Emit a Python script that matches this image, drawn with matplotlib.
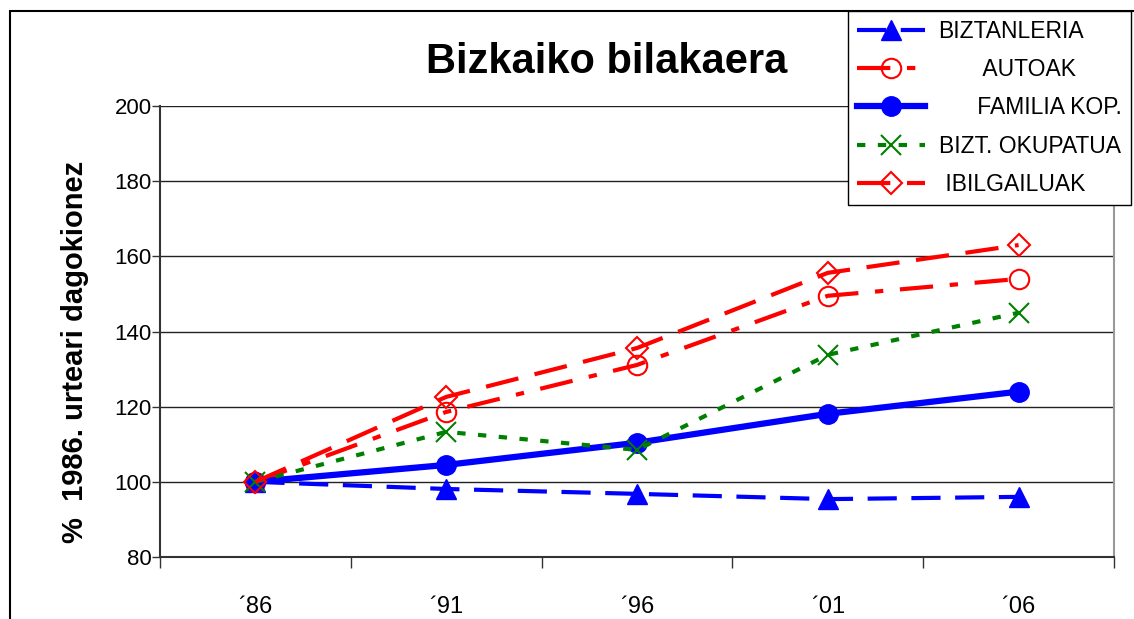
import matplotlib.pyplot as plt
from matplotlib.patches import Rectangle
import numpy as np

# -----------------------------
# Data (index, 1986 = 100)
# -----------------------------
years = ["\u00b486", "\u00b491", "\u00b496", "\u00b401", "\u00b406"]
biztanleria = [100, 98.1, 96.8, 95.4, 96.0]
autoak = [100, 118.6, 131.1, 149.5, 154.0]
familia_kop = [100, 104.5, 110.4, 118.1, 124.0]
bizt_okupatua = [100, 113.3, 108.5, 133.8, 145.0]
ibilgailuak = [100, 122.6, 135.6, 155.6, 163.0]

plt.rcParams['font.family'] = ['Liberation Sans', 'DejaVu Sans']

fig = plt.figure(figsize=(11.34, 6.19), dpi=100)
W, H = 1134, 619
ax = fig.add_axes([160 / W, 1 - 557 / H, (1114 - 160) / W, (557 - 106) / H])

x = np.arange(len(years)) + 0.5

ax.plot(x, biztanleria, color='blue', lw=3, dashes=(7, 3.5), marker='^',
        ms=14, label='BIZTANLERIA')
ax.plot(x, autoak, color='red', lw=3, dashes=(8, 4, 2, 4), marker='o',
        ms=14, mfc='none', mew=1.5, label='       AUTOAK')
ax.plot(x, familia_kop, color='blue', lw=4.5, marker='o', ms=14,
        label='      FAMILIA KOP.')
ax.plot(x, bizt_okupatua, color='green', lw=3, dashes=(2, 3), marker='x',
        ms=14, mew=1.5, label='BIZT. OKUPATUA')
ax.plot(x, ibilgailuak, color='red', lw=3, dashes=(8, 4), marker='D',
        ms=11, mfc='none', mew=1.5, label=' IBILGAILUAK')

ax.set_xlim(0, 5)
ax.set_ylim(80, 200)
ax.set_yticks(range(80, 201, 20))
ax.set_xticks(x)
ax.set_xticklabels(years, fontsize=17)
ax.set_xticks(np.arange(0, 6), minor=True)
ax.tick_params(axis='x', which='major', length=0, pad=28)
ax.tick_params(axis='x', which='minor', length=8, width=1, color='#333333')
ax.tick_params(axis='y', labelsize=16, length=6, width=1, color='#333333', pad=0)
ax.yaxis.grid(True, color='#222222', lw=1)
ax.set_axisbelow(True)

for side in ['left', 'bottom']:
    ax.spines[side].set_color('#333333')
    ax.spines[side].set_linewidth(1.5)
ax.spines['top'].set_visible(False)
ax.spines['right'].set_color('#999999')
ax.spines['right'].set_linewidth(1.5)

ax.set_ylabel('%  1986. urteari dagokionez', fontsize=21, fontweight='bold')
ax.yaxis.set_label_coords(-0.074, 0.455)

fig.text(607 / W, 1 - 62 / H, 'Bizkaiko bilakaera', fontsize=30,
         fontweight='bold', ha='center', va='center')

# outer chart border
fig.patches.append(Rectangle((10 / W, -0.1), 1.2, 1 - 11 / H + 0.1,
                             transform=fig.transFigure, fill=False,
                             edgecolor='black', lw=1.5))

leg = fig.legend(loc='upper left', bbox_to_anchor=(848 / W, 1 - 11 / H),
                 fontsize=16.5, frameon=True, fancybox=False, edgecolor='black',
                 handlelength=2.95, handletextpad=0.6, labelspacing=0.66,
                 borderpad=0.4, borderaxespad=0)
leg.get_frame().set_linewidth(1)
leg.get_frame().set_alpha(1)

plt.savefig('out.png', dpi=100)
